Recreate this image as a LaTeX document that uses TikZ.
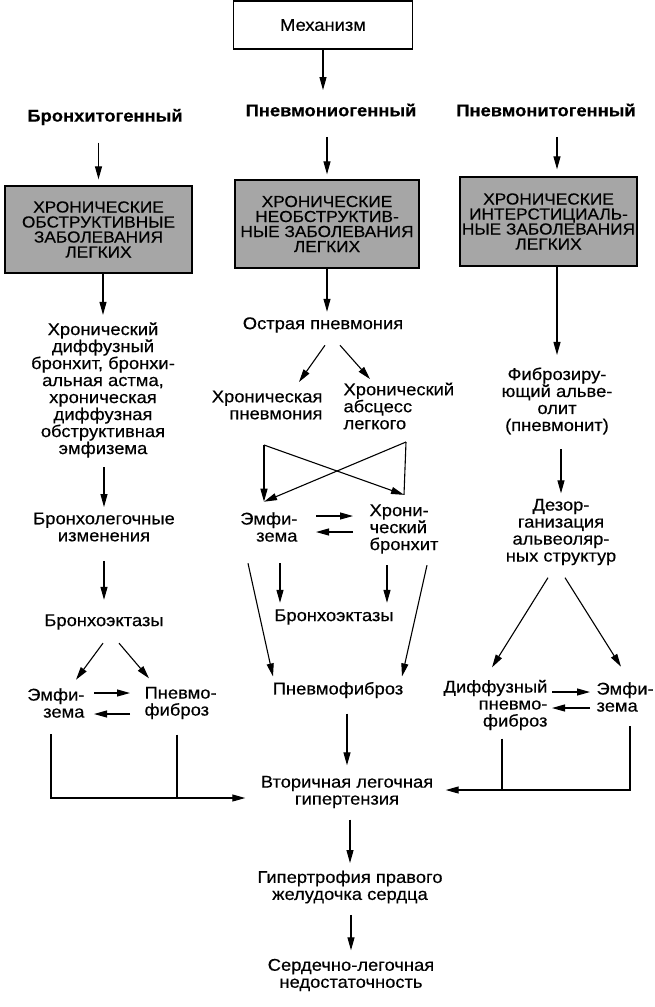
\documentclass[tikz,border=0pt]{standalone}
\usepackage{fontspec}
\setmainfont[FakeStretch=1.08, FakeBold=0.4]{Liberation Sans}
\usetikzlibrary{arrows.meta}
\newcommand{\diagfont}{\fontsize{17}{17}\selectfont\lineskiplimit=-20pt}
\newcommand{\capsfont}{\fontsize{16}{15}\selectfont\lineskiplimit=-20pt}

\begin{document}
\begin{tikzpicture}[x=1pt, y=-1pt, ->, >={Triangle[length=13pt,width=7pt]}, line width=1.1pt]
			\tikzstyle{txt}=[font=\diagfont, align=center, inner sep=2pt]
			\tikzstyle{path}=[txt, font=\bfseries\diagfont]
			\tikzstyle{disease}=[draw, line width=1.3pt, fill=black!35, font=\capsfont, align=center, inner sep=0pt]
			\useasboundingbox (0,0) rectangle (655,1007);
			\node[txt, draw, line width=1.2pt, minimum width=179pt, minimum height=48pt] (mech) at (323,25) {Механизм};
			\node[path] (hB) at (105,117) {Бронхитогенный};
			\node[path] (hP) at (331,110) {Пневмониогенный};
			\node[path] (hT) at (546,110) {Пневмонитогенный};
			\node[disease, minimum width=187pt, minimum height=87pt] (boxB) at (98.5,229.5) {ХРОНИЧЕСКИЕ\\ОБСТРУКТИВНЫЕ\\ЗАБОЛЕВАНИЯ\\ЛЕГКИХ};
			\node[disease, minimum width=184pt, minimum height=88pt] (boxP) at (327,224) {ХРОНИЧЕСКИЕ\\НЕОБСТРУКТИВ-\\НЫЕ ЗАБОЛЕВАНИЯ\\ЛЕГКИХ};
			\node[disease, minimum width=177pt, minimum height=89pt] (boxT) at (548.5,221.5) {ХРОНИЧЕСКИЕ\\ИНТЕРСТИЦИАЛЬ-\\НЫЕ ЗАБОЛЕВАНИЯ\\ЛЕГКИХ};

			\node[txt] (bLong) at (103,390) {Хронический\\диффузный\\бронхит, бронхи-\\альная астма,\\хроническая\\диффузная\\обструктивная\\эмфизема};
			\node[txt] (bChange) at (104,527) {Бронхолегочные\\изменения};
			\node[txt] (bEct) at (104,622) {Бронхоэктазы};
			\node[txt, align=right, anchor=east] (bEmph) at (87,703) {Эмфи-\\зема};
			\node[txt, align=left, anchor=west] (bFib) at (142,703) {Пневмо-\\фиброз};

			\node[txt] (pAcute) at (323,325) {Острая пневмония};
			\node[txt, align=right, anchor=east] (pChron) at (325,405) {Хроническая\\пневмония};
			\node[txt, align=left, anchor=west] (pAbsc) at (341,406) {Хронический\\абсцесс\\легкого};
			\node[txt, align=right, anchor=east] (pEmph) at (300,527) {Эмфи-\\зема};
			\node[txt, align=left, anchor=west] (pBronch) at (367,529) {Хрони-\\ческий\\бронхит};
			\node[txt] (pEct) at (334,617) {Бронхоэктазы};
			\node[txt] (pFib) at (338,690) {Пневмофиброз};
			\node[txt] (hyper) at (347,792) {Вторичная легочная\\гипертензия};
			\node[txt] (hypertr) at (350,887) {Гипертрофия правого\\желудочка сердца};
			\node[txt] (fail) at (351,975) {Сердечно-легочная\\недостаточность};

			\node[txt] (tAlv) at (557,401) {Фиброзиру-\\ющий альве-\\олит\\(пневмонит)};
			\node[txt] (tDis) at (561,532) {Дезор-\\ганизация\\альвеоляр-\\ных структур};
			\node[txt, align=right, anchor=east] (tFib) at (550,705) {Диффузный\\пневмо-\\фиброз};
			\node[txt, align=left, anchor=west] (tEmph) at (594,697) {Эмфи-\\зема};

			\coordinate (cL) at (264,445);
			\coordinate (cR) at (406,442);
			\coordinate (jL) at (51,798);
			\coordinate (jL2) at (177,798);
			\coordinate (jR) at (630,790);
			\coordinate (jR2) at (502,790);

			\path (mech) edge[shorten >=11pt] (mech |- hP.north);
			\path (hB.south -| boxB) edge[shorten <=15pt, shorten >=6pt] (boxB);
			\path (hP.south -| boxP) edge[shorten <=18pt, shorten >=5pt] (boxP);
			\path (hT.south -| tAlv) edge[shorten <=18pt, shorten >=7pt] (boxT.north -| tAlv);

			\path (boxB.south -| bLong) edge[shorten >=5pt] (bLong);
			\path (bLong.south -| bChange) edge[shorten <=7pt, shorten >=3pt] (bChange);
			\path (bChange) edge[shorten <=17pt, shorten >=12pt] (bEct);
			\path ([xshift=-1pt,yshift=-11pt]bEct.south) edge ([xshift=-11pt,yshift=6pt]bEmph.north east);
			\path ([xshift=15pt,yshift=-11pt]bEct.south) edge ([xshift=7pt,yshift=6pt]bFib.north west);
			\path ([yshift=10pt]bEmph.east) edge[shorten <=7pt, shorten >=12pt] ([yshift=10pt]bEmph.east -| bFib.west);
			\path ([yshift=-11pt]bEmph.east -| bFib.west) edge[shorten <=12pt, shorten >=7pt] ([yshift=-11pt]bEmph.east);
			\draw[shorten >=13pt] ([yshift=-14pt]bEmph.south -| jL) -- (jL) -- (jL -| hyper.west);
			\draw[-] ([yshift=-13pt]bFib.south -| jL2) -- (jL2);

			\path (boxP) edge[shorten >=3pt] (boxP |- pAcute.north);
			\path ([xshift=2pt,yshift=-10pt]pAcute.south) edge ([xshift=-26pt,yshift=6pt]pChron.north east);
			\path ([xshift=17pt,yshift=-10pt]pAcute.south) edge ([xshift=29pt,yshift=1pt]pAbsc.north west);
			\path (cL) edge ([xshift=-36pt,yshift=8pt]pEmph.north east);
			\path (cL) edge ([xshift=37pt,yshift=7pt]pBronch.north west);
			\path (cR) edge ([xshift=-36pt,yshift=8pt]pEmph.north east);
			\path (cR) edge[-] ([xshift=37pt,yshift=7pt]pBronch.north west);
			\path ([yshift=11pt]pEmph.east) edge[shorten <=16pt, shorten >=14pt] ([yshift=11pt]pEmph.east -| pBronch.west);
			\path ([yshift=-5pt]pEmph.east -| pBronch.west) edge[shorten <=14pt, shorten >=16pt] ([yshift=-5pt]pEmph.east);
			\path ([xshift=-20pt,yshift=-19pt]pEmph.south east) edge[shorten >=4pt] ([xshift=-20pt]pEmph.south east |- pEct.north);
			\path ([xshift=20pt,yshift=-9pt]pBronch.south west) edge[shorten >=4pt] ([xshift=20pt]pBronch.south west |- pEct.north);
			\path ([xshift=-52pt,yshift=-19pt]pEmph.south east) edge ([xshift=-65pt,yshift=3pt]pFib.north);
			\path ([xshift=60pt,yshift=-9pt]pBronch.south west) edge ([xshift=64pt,yshift=3pt]pFib.north);
			\path (pFib.south -| hyper) edge[shorten <=13pt, shorten >=8pt] (hyper);
			\path (hyper.south -| hypertr) edge[shorten <=9pt, shorten >=5pt] (hypertr);
			\path (hypertr.south -| fail) edge[shorten <=9pt, shorten >=6pt] (fail);

			\path (boxT.south -| tAlv) edge[shorten >=10pt] (tAlv);
			\path (tAlv.south -| tDis) edge[shorten <=12pt, shorten >=3pt] (tDis);
			\path ([xshift=-13pt,yshift=-10pt]tDis.south) edge ([xshift=-58pt,yshift=10pt]tFib.north east);
			\path ([xshift=4pt,yshift=-10pt]tDis.south) edge ([xshift=27pt,yshift=13pt]tEmph.north west);
			\path ([yshift=13pt]tFib.east) edge[shorten <=2pt, shorten >=4pt] ([yshift=13pt]tFib.east -| tEmph.west);
			\path ([yshift=-3pt]tFib.east -| tEmph.west) edge[shorten <=4pt, shorten >=2pt] ([yshift=-3pt]tFib.east);
			\draw[shorten >=10pt] ([yshift=-12pt]tEmph.south -| jR) -- (jR) -- (jR -| hyper.east);
			\draw[-] ([yshift=-6pt]tFib.south -| jR2) -- (jR2);
		\end{tikzpicture}
\end{document}
